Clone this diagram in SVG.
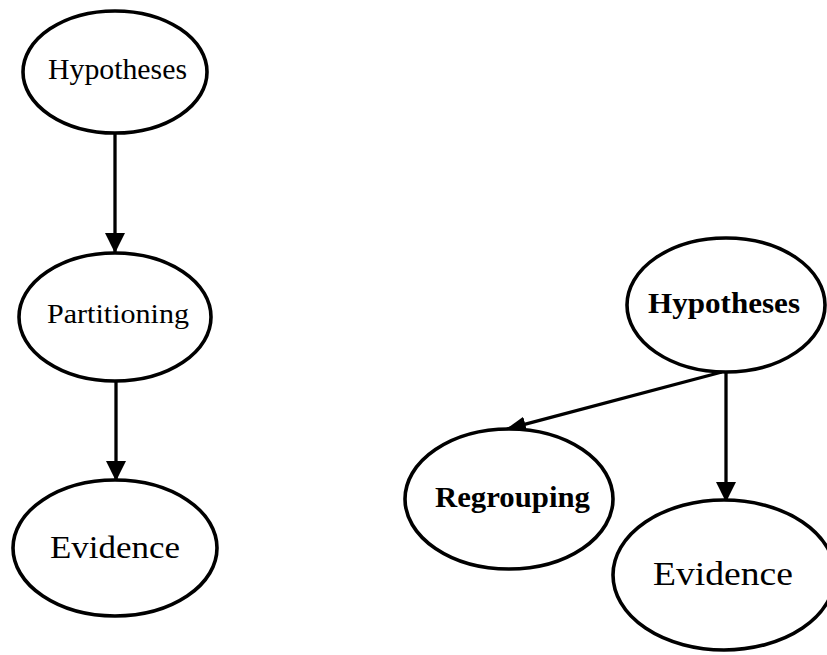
<svg xmlns="http://www.w3.org/2000/svg" width="827" height="655" viewBox="0 0 827 655">
<style>
.node ellipse{fill:#fff;stroke:#000;stroke-width:3.6}
.node text{font-family:"Liberation Serif","DejaVu Serif",serif;fill:#000;text-anchor:middle}
.b text{font-weight:bold}
.edge{stroke:#000;stroke-width:3.3;fill:none}
</style>
<defs>
<marker id="ah" markerUnits="userSpaceOnUse" markerWidth="20" markerHeight="20" viewBox="0 0 18 18" refX="17" refY="9" orient="auto">
<path d="M0,0 L18,9 L0,18 Z" fill="#000"/>
</marker>
<marker id="ah2" markerUnits="userSpaceOnUse" markerWidth="20" markerHeight="20" viewBox="0 0 18 18" refX="17" refY="9" orient="auto">
<path d="M0,2 L18,9 L0,16 Z" fill="#000"/>
</marker>
</defs>
<g id="connectors">
<line class="edge" x1="115" y1="134" x2="115" y2="252" marker-end="url(#ah)"/>
<line class="edge" x1="116" y1="382" x2="116" y2="480" marker-end="url(#ah)"/>
<line class="edge" x1="722" y1="372" x2="507" y2="429" stroke-width="2.8" marker-end="url(#ah2)"/>
<line class="edge" x1="726" y1="372" x2="726" y2="501" marker-end="url(#ah)"/>
</g>
<g id="n-hyp-left" class="node"><ellipse cx="115" cy="72" rx="92" ry="61"/><text x="117.5" y="79" font-size="29" textLength="139" lengthAdjust="spacingAndGlyphs">Hypotheses</text></g>
<g id="n-part" class="node"><ellipse cx="115" cy="317" rx="96" ry="64"/><text x="118" y="323" font-size="28" textLength="142" lengthAdjust="spacingAndGlyphs">Partitioning</text></g>
<g id="n-ev-left" class="node"><ellipse cx="115" cy="548" rx="102" ry="68"/><text x="115" y="558" font-size="32" textLength="130" lengthAdjust="spacingAndGlyphs">Evidence</text></g>
<g id="n-hyp-right" class="node b"><ellipse cx="726" cy="305" rx="99" ry="67"/><text x="724" y="313" font-size="30" textLength="152" lengthAdjust="spacingAndGlyphs">Hypotheses</text></g>
<g id="n-regroup" class="node b"><ellipse cx="509" cy="499" rx="104" ry="70"/><text x="512.5" y="507" font-size="30" textLength="155" lengthAdjust="spacingAndGlyphs">Regrouping</text></g>
<g id="n-ev-right" class="node"><ellipse cx="724" cy="575" rx="111" ry="75"/><text x="723" y="585" font-size="33" textLength="140" lengthAdjust="spacingAndGlyphs">Evidence</text></g>
</svg>
